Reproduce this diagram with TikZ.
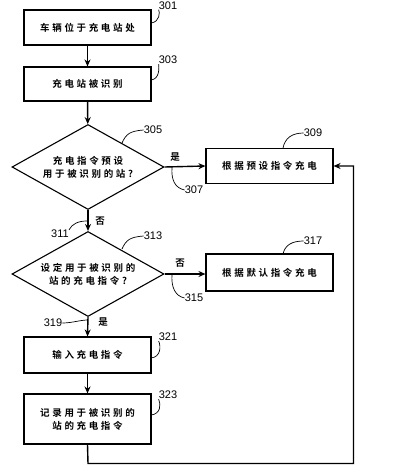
\documentclass[tikz,border=0pt]{standalone}
\usepackage{fontspec}
\setmainfont{Liberation Sans}
\newfontfamily\cjk[LetterSpace=28,BoldFont={Noto Sans CJK SC Bold}]{Noto Sans CJK SC}
\usetikzlibrary{shapes.geometric,arrows.meta}
\begin{document}
\begin{tikzpicture}[x=1pt,y=-1pt,
  box/.style={draw,line width=1.1pt,rectangle,inner sep=0pt,minimum width=127pt,font=\cjk\bfseries\fontsize{9.5}{13}\selectfont,align=center},
  dia/.style={draw,line width=1.1pt,diamond,inner sep=0pt,shape aspect=1.8,minimum width=152pt,minimum height=85pt,font=\cjk\bfseries\fontsize{9.5}{13}\selectfont,align=center},
  flow/.style={line width=1.4pt,-{Stealth[length=7pt,width=6pt]}},
  lead/.style={line width=0.7pt},
  num/.style={font=\fontsize{11}{12}\selectfont,inner sep=0pt},
  yn/.style={font=\cjk\bfseries\fontsize{9.5}{11}\selectfont,inner sep=0pt}]
\useasboundingbox (0,0) rectangle (404,465);
% nodes
\node[box,minimum height=35pt] (b301) at (87.5,27.5) {车辆位于充电站处};
\node[box,minimum height=34pt] (b303) at (87.5,84) {充电站被识别};
\node[dia] (d305) at (88,167) {充电指令预设\\用于被识别的站?};
\node[box,minimum height=35pt] (b309) at (269.5,166) {根据预设指令充电};
\node[dia] (d313) at (88,274) {设定用于被识别的\\站的充电指令?};
\node[box,minimum height=37pt] (b317) at (269.5,272.5) {根据默认指令充电};
\node[box,minimum height=36pt] (b321) at (87.5,355) {输入充电指令};
\node[box,minimum height=50pt] (b323) at (87.5,419) {记录用于被识别的\\站的充电指令};
\coordinate (c1) at (88,463.5);
\coordinate (c2) at (353.5,463.5);
\coordinate (c3) at (353.5,166);
% connectors
\draw[flow] (b301) -- (b303);
\draw[flow] (b303) -- (d305);
\draw[flow] (d305.east) -- (b309.west);
\draw[flow] (d305.south) -- (d313.north);
\draw[flow] (d313.east) -- (b317.west |- d313.east);
\draw[flow] (d313.south) -- (b321.north);
\draw[flow] (b321) -- (b323);
\draw[flow] (b323.south) -- (c1) -- (c2) -- (c3) -- (b309.east);
% yes/no labels
\node[yn] (y1) at (175,157) {是};
\node[yn] (n1) at (100,221) {否};
\node[yn] (n2) at (180,263) {否};
\node[yn] (y2) at (103,322) {是};
% reference numbers
\node[num] (l301) at (168,5.5) {301};
\node[num] (l303) at (168,60) {303};
\node[num] (l305) at (153,130) {305};
\node[num] (l307) at (194,190) {307};
\node[num] (l309) at (313,133) {309};
\node[num] (l311) at (60,234) {311};
\node[num] (l313) at (153,236) {313};
\node[num] (l315) at (194,298) {315};
\node[num] (l317) at (313,241) {317};
\node[num] (l319) at (53,323) {319};
\node[num] (l321) at (168,337) {321};
\node[num] (l323) at (168,395) {323};
% leaders
\draw[lead] (151,23) .. controls (160,22) and (160,12) .. (l301.south west);
\draw[lead] (151,80) .. controls (160,79) and (159,67) .. (l303.south west);
\draw[lead] (122,143) .. controls (126,134) and (130,131) .. (l305.west);
\draw[lead] (172,167) .. controls (171,180) and (175,188) .. (l307.west);
\draw[lead] (283,148) .. controls (285,138) and (292,133) .. (l309.west);
\draw[lead] (l311.north east) .. controls (72,224) and (78,221) .. (87,221);
\draw[lead] (122,249) .. controls (126,240) and (130,237) .. (l313.west);
\draw[lead] (172,274) .. controls (171,287) and (175,296) .. (l315.west);
\draw[lead] (283,254) .. controls (285,245) and (292,241) .. (l317.west);
\draw[lead] (l319.east) .. controls (72,323) and (80,320) .. (88,320);
\draw[lead] (151,358) .. controls (161,357) and (161,346) .. (l321.south west);
\draw[lead] (151,415) .. controls (161,414) and (161,404) .. (l323.south west);
\end{tikzpicture}
\end{document}
